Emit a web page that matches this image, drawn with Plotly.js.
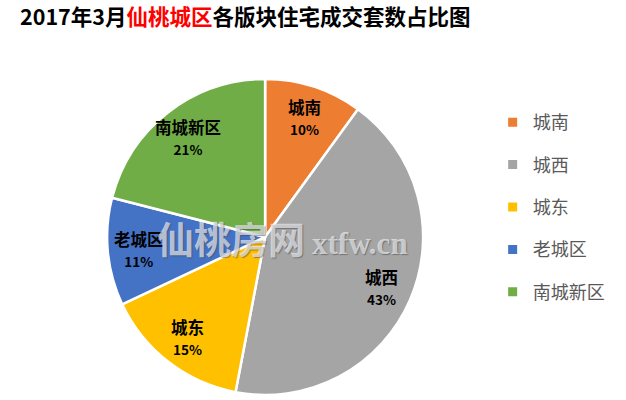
<!DOCTYPE html>
<html>
<head>
<meta charset="utf-8">
<script src="https://cdn.plot.ly/plotly-3.0.1.min.js"></script>
<style>html,body{margin:0;padding:0;background:#fff;}#chart{width:626px;height:400px;}</style>
</head>
<body>
<div id="chart"></div>
<script>
const categories = ['城南', '城西', '城东', '老城区', '南城新区'];
const shares = [10, 43, 15, 11, 21];
const colors = ['#ED7D31', '#A5A5A5', '#FFC000', '#4472C4', '#70AD47'];

const FONT = '"Noto Sans CJK SC", "Noto Sans", sans-serif';
const W = 626, H = 400;
const pieDomain = {x: [0.171, 0.676], y: [0.0125, 0.8025]};

const pie = {
  type: 'pie',
  labels: categories,
  values: shares,
  sort: false,
  direction: 'clockwise',
  rotation: 0,
  marker: {colors: colors, line: {color: '#ffffff', width: 2.5}},
  textinfo: 'none',
  showlegend: false,
  hoverinfo: 'label+percent',
  domain: pieDomain
};

const legendTraces = categories.map((c, i) => ({
  type: 'scatter',
  mode: 'markers',
  x: [null], y: [null],
  name: c,
  legendgroup: 'g' + i,
  marker: {symbol: 'square', size: 9, color: colors[i]},
  hoverinfo: 'skip'
}));

// data labels placed along each slice's mid-angle (Excel-style, ~0.8 of radius)
const total = shares.reduce((a, b) => a + b, 0);
const cx = (pieDomain.x[0] + pieDomain.x[1]) / 2 * W;
const cyPaper = (pieDomain.y[0] + pieDomain.y[1]) / 2;
const radius = Math.min((pieDomain.x[1] - pieDomain.x[0]) * W, (pieDomain.y[1] - pieDomain.y[0]) * H) / 2;
let cum = 0;
const labelAnnotations = categories.map((c, i) => {
  const mid = (cum + shares[i] / 2) / total * 2 * Math.PI;
  cum += shares[i];
  const r = radius * 0.8;
  const pct = Math.round(shares[i] / total * 100);
  return {
    xref: 'paper', yref: 'paper',
    x: (cx + r * Math.sin(mid)) / W,
    y: cyPaper + r * Math.cos(mid) / H,
    xanchor: 'center', yanchor: 'middle', showarrow: false,
    text: '<b>' + c + "</b><br><b><span style='font-size:13.5px'>" + pct + '%</span></b>',
    font: {family: FONT, size: 16.5, color: '#000000'}
  };
});

const layout = {
  width: W, height: H,
  margin: {l: 0, r: 0, t: 0, b: 0},
  paper_bgcolor: '#ffffff',
  plot_bgcolor: '#ffffff',
  title: {
    text: "<b>2017年3月<span style='color:#FF0000'>仙桃城区</span>各版块住宅成交套数占比图</b>",
    font: {family: FONT, size: 21.5, color: '#000000'},
    x: 0.032, xanchor: 'left', y: 0.957, yanchor: 'middle'
  },
  xaxis: {visible: false},
  yaxis: {visible: false},
  showlegend: true,
  legend: {
    x: 0.787, xanchor: 'left', y: 0.74, yanchor: 'top',
    font: {family: FONT, size: 18, color: '#595959'},
    tracegroupgap: 16,
    bgcolor: 'rgba(0,0,0,0)',
    itemclick: false
  },
  annotations: labelAnnotations.concat([{
    xref: 'paper', yref: 'paper',
    x: 0.451, y: 0.405, xanchor: 'center', yanchor: 'middle',
    showarrow: false,
    text: "<b><span style='font-size:37px'>仙桃房网</span> <span style='font-family:\"Liberation Serif\", serif;font-size:31px'>xtfw.cn</span></b>",
    font: {family: FONT, size: 31, color: 'rgba(240,242,248,0.68)', shadow: '1px 1px 1px rgba(70,70,70,0.75)'}
  }])
};

Plotly.newPlot('chart', [pie].concat(legendTraces), layout, {displayModeBar: false, staticPlot: true});
</script>
</body>
</html>
